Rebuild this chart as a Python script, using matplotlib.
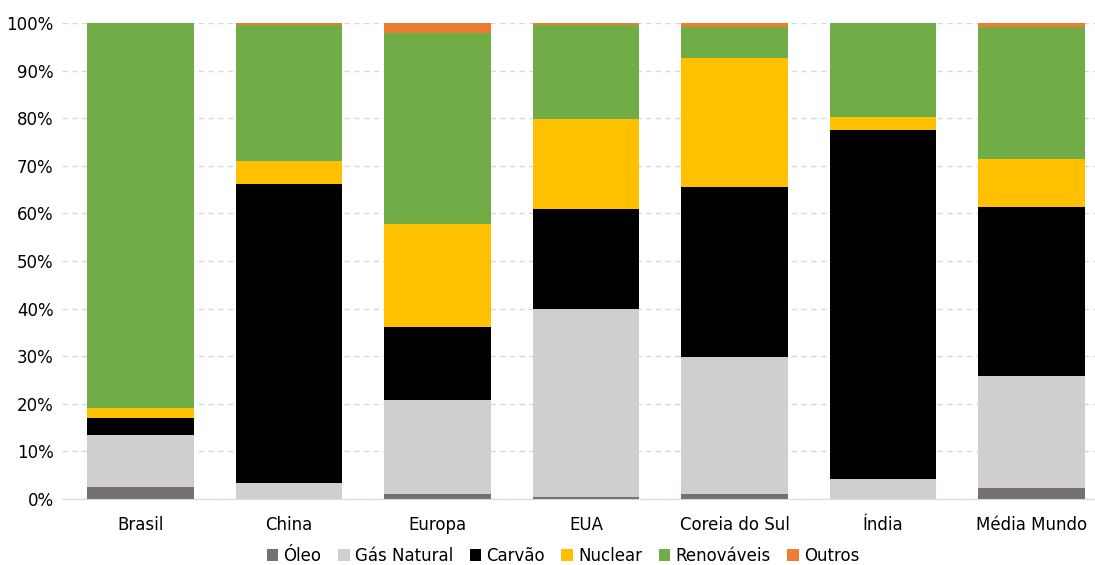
import numpy as np
import matplotlib.pyplot as plt
from matplotlib.ticker import PercentFormatter

regioes = ['Brasil', 'China', 'Europa', 'EUA', 'Coreia do Sul', 'Índia', 'Média Mundo']
oleo = [2.5, 0.1, 1.1, 0.5, 1.1, 0.1, 2.3]
gas = [10.9, 3.2, 19.8, 39.4, 28.7, 4.2, 23.5]
carvao = [3.6, 62.9, 15.2, 21.0, 35.7, 73.2, 35.5]
nuclear = [2.2, 4.8, 21.7, 18.9, 27.2, 2.8, 10.1]
renovaveis = [80.8, 28.5, 40.2, 19.8, 6.5, 19.6, 27.7]
outros = [0.0, 0.5, 2.0, 0.4, 0.8, 0.1, 0.9]

series = [('Óleo', oleo, '#767171'),
          ('Gás Natural', gas, '#D0CECE'),
          ('Carvão', carvao, '#000000'),
          ('Nuclear', nuclear, '#FFC000'),
          ('Renováveis', renovaveis, '#70AD47'),
          ('Outros', outros, '#ED7D31')]

plt.rcParams['font.family'] = ['DejaVu Sans']
fig = plt.figure(figsize=(10.95, 5.65), dpi=100)
ax = fig.add_axes([62/1095, 66/565, 1 - 62/1095, (499-23)/565])

x = np.arange(len(regioes))
base = np.zeros(len(regioes))
for nome, vals, cor in series:
    ax.bar(x, vals, 0.72, bottom=base, color=cor, label=nome, zorder=3)
    base += np.array(vals)

ax.set_ylim(0, 100)
ax.set_xlim(-0.529, 6.428)
ax.set_yticks(range(0, 101, 10))
ax.yaxis.set_major_formatter(PercentFormatter(decimals=0))
ax.set_xticks(x)
ax.set_xticklabels(regioes)
ax.tick_params(axis='both', length=0, labelsize=12, colors='#000000')
ax.tick_params(axis='x', pad=12)
ax.tick_params(axis='y', pad=6)
ax.grid(axis='y', color='#D9D9D9', linestyle=(0, (4, 3)), linewidth=1, zorder=0)
for s in ['top', 'right', 'left']:
    ax.spines[s].set_visible(False)
ax.spines['bottom'].set_color('#D9D9D9')
ax.spines['bottom'].set_zorder(4)

ax.legend(loc='center', bbox_to_anchor=(0.485, -0.12), ncol=6, frameon=False,
          fontsize=12, handlelength=0.7, handleheight=0.7, handletextpad=0.3,
          columnspacing=1.0, borderpad=0)

fig.savefig('out.png', dpi=100)
